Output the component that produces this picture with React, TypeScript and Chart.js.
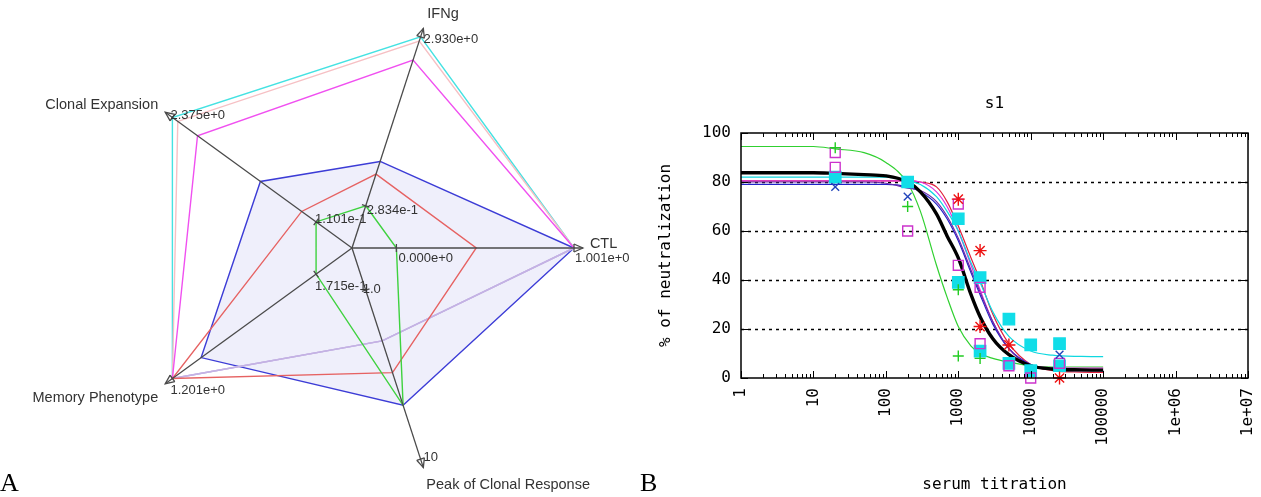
import React, { useEffect, useRef } from 'react';
import { Chart, registerables } from 'chart.js';

Chart.register(...registerables);

// ---------------- Panel A (radar) data ----------------
const RADAR_AXES = ['IFNg', 'CTL', 'Peak of Clonal Response', 'Memory Phenotype', 'Clonal Expansion'];
const AXIS_MIN = [0.2834, 0.0, 1.0, 0.1715, 0.1101];
const AXIS_MAX = [2.93, 1.001, 10, 1.201, 2.375];
const AXIS_MIN_LABELS = ['2.834e-1', '0.000e+0', '1.0', '1.715e-1', '1.101e-1'];
const AXIS_MAX_LABELS = ['2.930e+0', '1.001e+0', '10', '1.201e+0', '2.375e+0'];

const RADAR_CYAN = [2.93, 1.001, 3.7, 1.201, 2.375];
const RADAR_PINK = [2.864, 1.001, 3.7, 1.201, 2.29];
const RADAR_MAGENTA = [2.566, 1.001, 3.7, 1.201, 1.979];
const RADAR_RED = [0.78, 0.45, 5.39, 1.201, 0.337];
const RADAR_GREEN = [0.2834, 0.0, 7.13, 0.1715, 0.1101];
const RADAR_BLUE = [0.978, 1.001, 7.13, 0.995, 0.988];

// ---------------- Panel B (neutralization) data ----------------
const X_TICKS = [1, 10, 100, 1000, 10000, 100000, 1e6, 1e7];
const X_TICK_LABELS = ['1', '10', '100', '1000', '10000', '100000', '1e+06', '1e+07'];
const Y_TICKS = [0, 20, 40, 60, 80, 100];
const Y_GRID = [20, 40, 60, 80];

const CURVE_X = [1, 10, 20, 50, 100, 200, 300, 500, 700, 1000, 1500, 2000, 3000, 5000, 10000, 20000, 50000, 100000];
const CURVE_GREEN = [94.5, 94.5, 93.5, 92, 88, 79.5, 68, 46, 33, 21, 13, 10, 8, 6.5, 5, 4.5, 4.5, 4.5];
const CURVE_RED = [80.5, 80.5, 80.5, 80.5, 80.5, 80.5, 80, 78, 72, 62, 49, 40, 26, 14, 5.5, 3, 2.4, 2.3];
const CURVE_MAGENTA = [80.5, 80.5, 80.5, 80.5, 80.5, 80.5, 80, 76, 70, 60, 46, 36, 23, 12, 5.5, 4.2, 4, 4];
const CURVE_CYAN = [82, 82, 82, 82, 82, 80.5, 79, 74, 68, 60, 47, 39, 27, 17, 11, 9.3, 8.8, 8.7];
const CURVE_BLUE = [79, 79, 79, 79, 79, 78, 76, 71, 65, 56, 43, 34, 22, 12, 5.5, 3.5, 3, 3];
const CURVE_VIOLET = [80, 80, 80, 80, 79.5, 77.5, 76.5, 72, 66, 57, 44, 35, 23, 12, 5, 3.5, 3.2, 3];
const CURVE_BLACK = [83.8, 83.8, 83.5, 83, 82.5, 80, 76, 67, 58, 49, 34, 25, 16, 9.5, 5, 3.7, 3.3, 3.2];

const RED_STAR_X = [1000, 2000, 2000, 5000, 25000];
const RED_STAR_Y = [73, 52, 21, 13.5, 0];
const GREEN_PLUS_X = [20, 200, 1000, 1000, 2000];
const GREEN_PLUS_Y = [94, 70, 36, 9, 8];
const BLUE_CROSS_X = [20, 200, 25000];
const BLUE_CROSS_Y = [78, 74, 9.5];
const MAGENTA_SQ_X = [20, 20, 200, 1000, 1000, 2000, 2000, 5000, 10000, 25000];
const MAGENTA_SQ_Y = [92, 86, 60, 71, 46, 37, 14, 5, 0, 6];
const CYAN_SQ_X = [20, 200, 1000, 1000, 2000, 2000, 5000, 5000, 10000, 10000, 25000, 25000];
const CYAN_SQ_Y = [82, 80, 65, 39, 41, 11, 24, 6, 13.5, 3, 14, 5];

// ---------------- styling ----------------
const SANS = '"Liberation Sans", Arial, sans-serif';
const MONO = '"DejaVu Sans Mono", monospace';
const AXIS_MIN_FRAC = 0.2;
const FADED_SEGMENT = 'rgba(196,178,228,0.95)';
const PEAK_INDEX = 2;

// label offsets (px) for radar axis texts: [dx, dy, align]
const NAME_OFFSETS: [number, number, CanvasTextAlign][] = [
  [4, -14, 'left'],
  [7, -4, 'left'],
  [3, 17, 'left'],
  [-7, 14, 'right'],
  [-7, -7, 'right'],
];
const MAX_OFFSETS: [number, number][] = [[3, 3], [1, 10], [3, -2], [-2, 12], [-2, -2]];
const MIN_OFFSETS: [number, number][] = [[1, 5], [2, 10], [-3, -1], [-1, 12], [-1, -2]];

function normalize(values: number[]): (number | null)[] {
  return values.map((v, i) => AXIS_MIN_FRAC + (1 - AXIS_MIN_FRAC) * (v - AXIS_MIN[i]) / (AXIS_MAX[i] - AXIS_MIN[i]));
}

const radarAxesPlugin = {
  id: 'radarAxes',
  afterDatasetsDraw(chart: any) {
    const s = chart.scales.r;
    const ctx: CanvasRenderingContext2D = chart.ctx;
    const cx = s.xCenter;
    const cy = s.yCenter;
    const R = s.drawingArea;
    ctx.save();
    ctx.strokeStyle = '#4a4a4a';
    ctx.fillStyle = '#333';
    ctx.lineWidth = 1.3;
    ctx.textBaseline = 'middle';
    RADAR_AXES.forEach((name, i) => {
      const tip = s.getPointPosition(i, R * 1.04);
      const mx = s.getPointPosition(i, R);
      const mn = s.getPointPosition(i, R * AXIS_MIN_FRAC);
      const dx = (tip.x - cx) / (R * 1.04);
      const dy = (tip.y - cy) / (R * 1.04);
      const px = -dy;
      const py = dx;
      ctx.beginPath();
      ctx.moveTo(cx, cy);
      ctx.lineTo(tip.x, tip.y);
      ctx.stroke();
      ctx.beginPath();
      ctx.moveTo(tip.x - 9 * dx + 4 * px, tip.y - 9 * dy + 4 * py);
      ctx.lineTo(tip.x, tip.y);
      ctx.lineTo(tip.x - 9 * dx - 4 * px, tip.y - 9 * dy - 4 * py);
      ctx.stroke();
      [mn, mx].forEach((p) => {
        ctx.beginPath();
        ctx.moveTo(p.x + 4 * px, p.y + 4 * py);
        ctx.lineTo(p.x - 4 * px, p.y - 4 * py);
        ctx.stroke();
      });
      const no = NAME_OFFSETS[i];
      ctx.font = '14.5px ' + SANS;
      ctx.textAlign = no[2];
      ctx.fillText(name, tip.x + no[0], tip.y + no[1]);
      ctx.font = '13px ' + SANS;
      ctx.textAlign = 'left';
      ctx.fillText(AXIS_MAX_LABELS[i], mx.x + MAX_OFFSETS[i][0], mx.y + MAX_OFFSETS[i][1]);
      ctx.fillText(AXIS_MIN_LABELS[i], mn.x + MIN_OFFSETS[i][0], mn.y + MIN_OFFSETS[i][1]);
    });
    ctx.restore();
  },
};

const gnuplotFramePlugin = {
  id: 'gnuFrame',
  beforeDatasetsDraw(chart: any) {
    const { ctx, chartArea, scales } = chart;
    const { left, right } = chartArea;
    const y = scales.y;
    ctx.save();
    ctx.strokeStyle = '#000';
    ctx.lineWidth = 1.3;
    ctx.setLineDash([3, 4]);
    Y_GRID.forEach((v) => {
      const py = Math.round(y.getPixelForValue(v)) + 0.5;
      ctx.beginPath();
      ctx.moveTo(left, py);
      ctx.lineTo(right, py);
      ctx.stroke();
    });
    ctx.setLineDash([]);
    ctx.restore();
  },
  afterDatasetsDraw(chart: any) {
    const { ctx, chartArea, scales } = chart;
    const { left, right, top, bottom } = chartArea;
    const x = scales.x;
    const y = scales.y;
    ctx.save();
    ctx.strokeStyle = '#000';
    ctx.lineWidth = 1.5;
    ctx.strokeRect(left, top, right - left, bottom - top);
    ctx.lineWidth = 1;
    for (let e = 0; e < X_TICKS.length; e++) {
      for (let m = 1; m <= 9; m++) {
        const v = m * X_TICKS[e];
        if (v > X_TICKS[X_TICKS.length - 1]) break;
        const px = Math.round(x.getPixelForValue(v)) + 0.5;
        const len = m === 1 ? 7 : 4;
        ctx.beginPath();
        ctx.moveTo(px, bottom);
        ctx.lineTo(px, bottom - len);
        ctx.moveTo(px, top);
        ctx.lineTo(px, top + len);
        ctx.stroke();
      }
    }
    Y_TICKS.forEach((v) => {
      const py = Math.round(y.getPixelForValue(v)) + 0.5;
      ctx.beginPath();
      ctx.moveTo(left, py);
      ctx.lineTo(left + 7, py);
      ctx.moveTo(right, py);
      ctx.lineTo(right - 7, py);
      ctx.stroke();
    });
    ctx.fillStyle = '#000';
    ctx.font = '16px ' + MONO;
    ctx.textAlign = 'center';
    ctx.textBaseline = 'middle';
    ctx.fillText('s1', (left + right) / 2, top - 29);
    ctx.restore();
  },
};

function xy(xs: number[], ys: number[]) {
  return xs.map((x, i) => ({ x, y: ys[i] }));
}

function curve(ys: number[], color: string, width = 1.2) {
  return {
    data: xy(CURVE_X, ys),
    showLine: true,
    borderColor: color,
    backgroundColor: color,
    borderWidth: width,
    pointRadius: 0,
    cubicInterpolationMode: 'monotone' as const,
    fill: false,
  };
}

function markers(xs: number[], ys: number[], color: string, style: string, radius: number, filled: boolean) {
  return {
    data: xy(xs, ys),
    showLine: false,
    pointStyle: style,
    pointRadius: radius,
    pointBorderColor: color,
    pointBackgroundColor: filled ? color : 'rgba(0,0,0,0)',
    pointBorderWidth: 1.4,
    clip: false as const,
  };
}

export default function App() {
  const radarRef = useRef<HTMLCanvasElement | null>(null);
  const lineRef = useRef<HTMLCanvasElement | null>(null);

  useEffect(() => {
    const W = 630;
    const H = 497;
    const R = 222;
    const cx = 352;
    const cy = 248;
    const radarDs = (data: (number | null)[], color: string, fill: boolean) => ({
      data,
      borderColor: color,
      backgroundColor: fill ? 'rgba(190,190,240,0.25)' : 'rgba(0,0,0,0)',
      borderWidth: 1.4,
      fill,
      spanGaps: false,
      pointRadius: 0,
    });
    // outer series: bright part (skipping the peak vertex) + faded part through the peak vertex
    const brightPart = (vals: number[]) => normalize(vals).map((v, i) => (i === PEAK_INDEX ? null : v));
    const fadedPart = (vals: number[]) =>
      normalize(vals).map((v, i) => (Math.abs(i - PEAK_INDEX) <= 1 ? v : null));
    const radar = new Chart(radarRef.current as HTMLCanvasElement, {
      type: 'radar',
      data: {
        labels: RADAR_AXES,
        datasets: [
          radarDs(normalize(RADAR_GREEN), '#3fd23f', false),
          radarDs(normalize(RADAR_RED), '#e66262', false),
          radarDs(brightPart(RADAR_MAGENTA), '#f050f0', false),
          radarDs(brightPart(RADAR_PINK), '#f6c0c4', false),
          radarDs(brightPart(RADAR_CYAN), '#45e2e2', false),
          radarDs(fadedPart(RADAR_MAGENTA), FADED_SEGMENT, false),
          radarDs(fadedPart(RADAR_PINK), FADED_SEGMENT, false),
          radarDs(fadedPart(RADAR_CYAN), FADED_SEGMENT, false),
          radarDs(normalize(RADAR_BLUE), '#3c3cd6', true),
        ],
      },
      options: {
        animation: false,
        responsive: false,
        maintainAspectRatio: false,
        layout: { padding: { left: cx - R, top: cy - R, right: W - cx - R, bottom: H - cy - R } },
        plugins: { legend: { display: false }, tooltip: { enabled: false } },
        scales: {
          r: {
            min: 0,
            max: 1,
            startAngle: 18,
            angleLines: { display: false },
            grid: { display: false },
            ticks: { display: false },
            pointLabels: { display: false },
          },
        },
        elements: { line: { tension: 0 } },
      } as any,
      plugins: [radarAxesPlugin],
    });

    const axisFont = { family: MONO, size: 16 };
    const line = new Chart(lineRef.current as HTMLCanvasElement, {
      type: 'scatter',
      data: {
        datasets: [
          markers(RED_STAR_X, RED_STAR_Y, '#ee1111', 'star', 6.5, false),
          markers(GREEN_PLUS_X, GREEN_PLUS_Y, '#22cc22', 'cross', 5.5, false),
          markers(BLUE_CROSS_X, BLUE_CROSS_Y, '#2244bb', 'crossRot', 5.5, false),
          markers(MAGENTA_SQ_X, MAGENTA_SQ_Y, '#cc33cc', 'rect', 7, false),
          markers(CYAN_SQ_X, CYAN_SQ_Y, '#11dde8', 'rect', 8, true),
          curve(CURVE_BLACK, '#000000', 3.4),
          curve(CURVE_VIOLET, '#6a2aa8'),
          curve(CURVE_BLUE, '#2222c8'),
          curve(CURVE_CYAN, '#10d8e0'),
          curve(CURVE_MAGENTA, '#dd33dd'),
          curve(CURVE_RED, '#e0203c'),
          curve(CURVE_GREEN, '#30d030'),
        ],
      },
      options: {
        animation: false,
        responsive: false,
        maintainAspectRatio: false,
        layout: { padding: { top: 133, right: 13, bottom: 0, left: 0 } },
        plugins: { legend: { display: false }, tooltip: { enabled: false } },
        scales: {
          x: {
            type: 'logarithmic',
            position: 'bottom',
            min: X_TICKS[0],
            max: X_TICKS[X_TICKS.length - 1],
            grid: { display: false, drawTicks: false },
            border: { display: false },
            afterBuildTicks: (s: any) => {
              s.ticks = X_TICKS.map((v) => ({ value: v }));
            },
            afterFit: (s: any) => {
              s.height = 119;
              s.paddingLeft = 0;
              s.paddingRight = 0;
            },
            ticks: {
              autoSkip: false,
              minRotation: 90,
              maxRotation: 90,
              padding: 10,
              color: '#000',
              font: axisFont,
              callback: (_v: any, i: number) => X_TICK_LABELS[i],
            },
            title: {
              display: true,
              text: 'serum titration',
              color: '#000',
              font: axisFont,
              padding: { top: 0, bottom: 3 },
            },
          },
          y: {
            type: 'linear',
            min: Y_TICKS[0],
            max: Y_TICKS[Y_TICKS.length - 1],
            grid: { display: false, drawTicks: false },
            border: { display: false },
            afterBuildTicks: (s: any) => {
              s.ticks = Y_TICKS.map((v) => ({ value: v }));
            },
            afterFit: (s: any) => {
              s.width = 111;
              s.paddingTop = 0;
              s.paddingBottom = 0;
            },
            ticks: {
              padding: 10,
              color: '#000',
              font: axisFont,
              callback: (v: any) => String(v),
            },
            title: {
              display: true,
              text: '% of neutralization',
              color: '#000',
              font: axisFont,
              padding: { top: 26, bottom: 0 },
            },
          },
        },
      } as any,
      plugins: [gnuplotFramePlugin],
    });

    return () => {
      radar.destroy();
      line.destroy();
    };
  }, []);

  const panelLetter: React.CSSProperties = {
    position: 'absolute',
    top: 470,
    fontFamily: '"Liberation Serif", "Times New Roman", serif',
    fontSize: 26,
    lineHeight: '26px',
    color: '#000',
  };

  return (
    <div style={{ position: 'absolute', left: 0, top: 0, width: 1261, height: 497, background: '#fff', overflow: 'hidden' }}>
      <canvas ref={radarRef} width={630} height={497} style={{ position: 'absolute', left: 0, top: 0, width: 630, height: 497 }} />
      <canvas ref={lineRef} width={631} height={497} style={{ position: 'absolute', left: 630, top: 0, width: 631, height: 497 }} />
      <div style={{ ...panelLetter, left: 0 }}>A</div>
      <div style={{ ...panelLetter, left: 640 }}>B</div>
    </div>
  );
}
